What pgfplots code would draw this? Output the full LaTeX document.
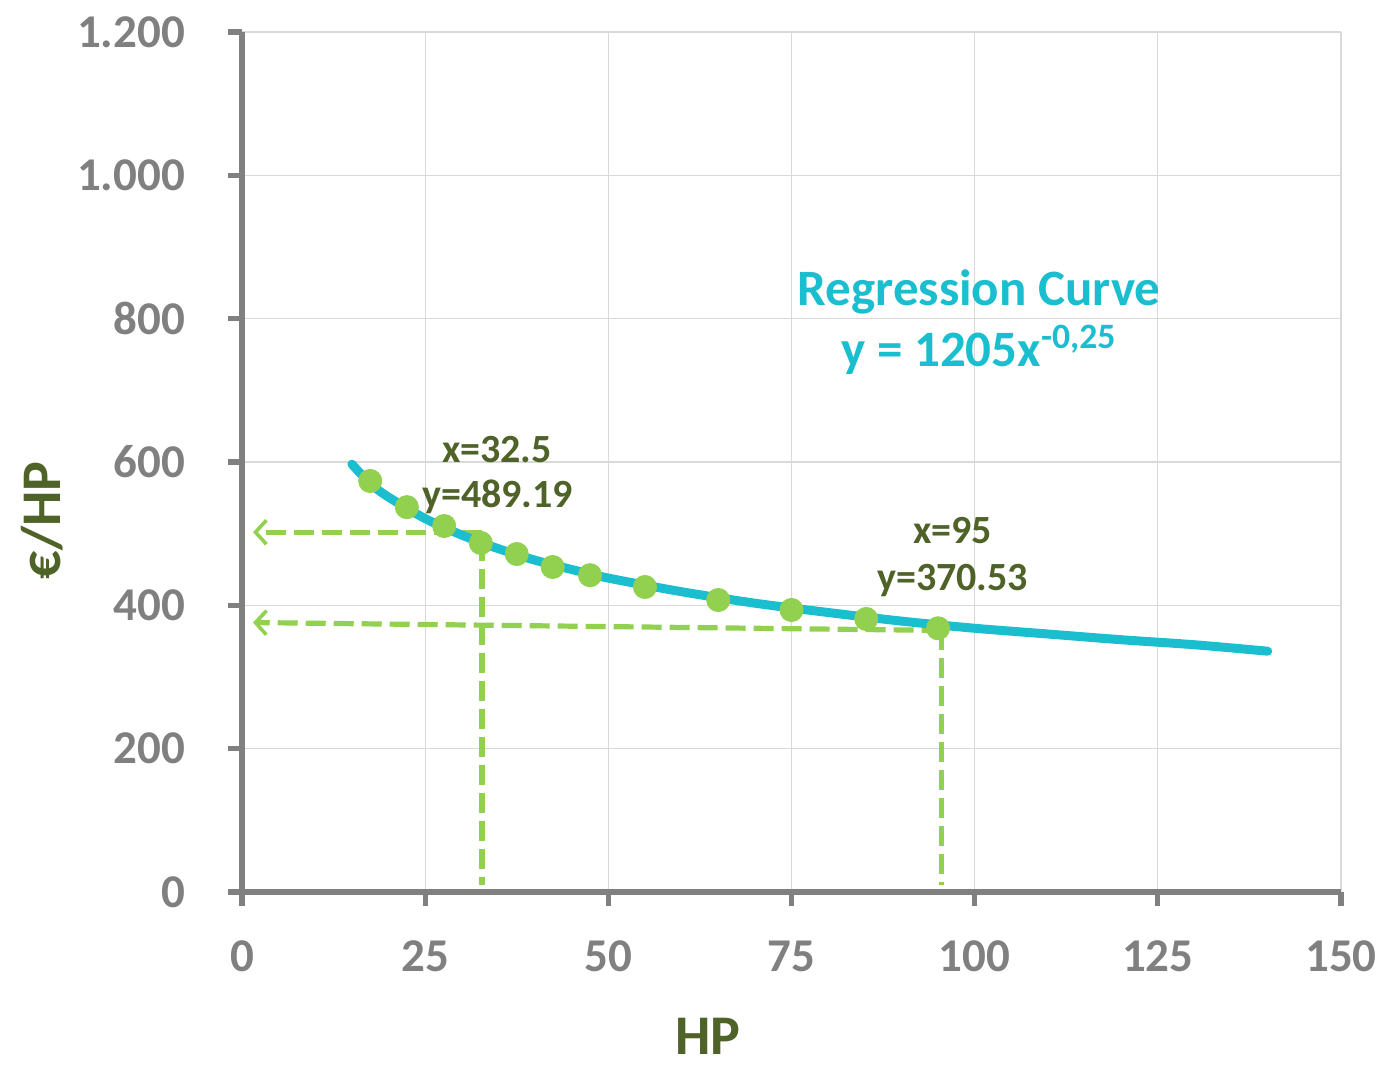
\documentclass[border=0pt]{standalone}
\usepackage{fontspec}
\setmainfont{Carlito}
\usepackage{pgfplots}
\pgfplotsset{compat=1.18}
\usetikzlibrary{arrows.meta}
\definecolor{axgray}{RGB}{128,128,128}
\definecolor{gridgray}{RGB}{217,217,217}
\definecolor{olive}{RGB}{79,98,40}
\definecolor{ptgreen}{RGB}{146,208,80}
\definecolor{curvecyan}{RGB}{27,190,207}
\begin{document}
\begin{tikzpicture}
\begin{axis}[
  at={(0,0)}, anchor=south west,
  scale only axis, width=549.5pt, height=430pt,
  xmin=0, xmax=150, ymin=0, ymax=1200,
  axis lines=left,
  axis line style={-, draw=axgray, line width=2.6pt},
  xtick={0,25,50,75,100,125,150},
  xticklabels={0,25,50,75,100,125,150},
  ytick={0,200,400,600,800,1000,1200},
  yticklabels={0,200,400,600,800,{1.000},{1.200}},
  tick align=outside,
  major tick length=7pt,
  tick style={draw=axgray, line width=2.6pt},
  grid=major,
  major grid style={draw=gridgray, line width=0.6pt},
  ticklabel style={font=\fontsize{23.5}{26}\selectfont\bfseries, text=axgray},
  xticklabel style={yshift=-14pt},
  yticklabel style={xshift=-18pt},
  xlabel={HP}, ylabel={€/HP},
  label style={font=\fontsize{28}{32}\selectfont\bfseries, text=olive},
  xlabel style={at={(axis description cs:0.424,0)}, anchor=center, yshift=-72pt},
  ylabel style={at={(axis description cs:0,0.432)}, anchor=center, yshift=100pt},
  clip=false,
]
% data points
\addplot[only marks, color=ptgreen, mark=*, mark size=5.8pt, mark options={fill=ptgreen, draw=ptgreen}] coordinates {
(17.5,573.5) (22.5,537) (27.6,510.7) (32.6,487) (37.5,471.6) (42.4,453.5)
(47.5,442) (55,425.6) (65,407.4) (75,393.5) (85.2,381) (95,368)
};
% dashed guide lines
\addplot[draw=ptgreen, line width=2.6pt, dash pattern=on 10pt off 4pt, -{Straight Barb[length=5.5pt,width=12pt,line width=1.8pt]}] coordinates {(32.7,502) (1.5,502)};
\addplot[draw=ptgreen, line width=2.6pt, dash pattern=on 10pt off 4pt] coordinates {(32.75,490) (32.75,10)};
\addplot[draw=ptgreen, line width=2.6pt, dash pattern=on 10pt off 4pt, -{Straight Barb[length=5.5pt,width=12pt,line width=1.8pt]}] coordinates {(95.5,365) (1.5,376)};
\addplot[draw=ptgreen, line width=2.6pt, dash pattern=on 10pt off 4pt] coordinates {(95.5,365) (95.5,10)};
% regression curve
\addplot[draw=curvecyan, line width=4.5pt, smooth, line cap=round] coordinates {
(15,597) (17.5,570) (20,551) (25,521) (30,498) (35,479) (40,463) (45,450)
(50,438) (60,419) (70,403) (80,390) (90,378) (100,368) (110,360) (120,352)
(130,345) (140,336)
};
% annotations
\node[font=\fontsize{20}{23}\selectfont\bfseries, text=olive] at (axis cs:34.8,618) {x=32.5};
\node[font=\fontsize{20}{23}\selectfont\bfseries, text=olive] at (axis cs:34.9,552) {y=489.19};
\node[font=\fontsize{20}{23}\selectfont\bfseries, text=olive] at (axis cs:97,504) {x=95};
\node[font=\fontsize{20}{23}\selectfont\bfseries, text=olive] at (axis cs:97,435) {y=370.53};
\node[font=\fontsize{25.5}{29}\selectfont\bfseries, text=curvecyan] at (axis cs:100.6,837) {Regression Curve};
\node[font=\fontsize{25.5}{29}\selectfont\bfseries, text=curvecyan] at (axis cs:100.6,756) {y = 1205x\textsuperscript{-0,25}};
\end{axis}
\pgfresetboundingbox
\useasboundingbox (-121pt,-87pt) rectangle (571pt,446pt);
\end{tikzpicture}
\end{document}
